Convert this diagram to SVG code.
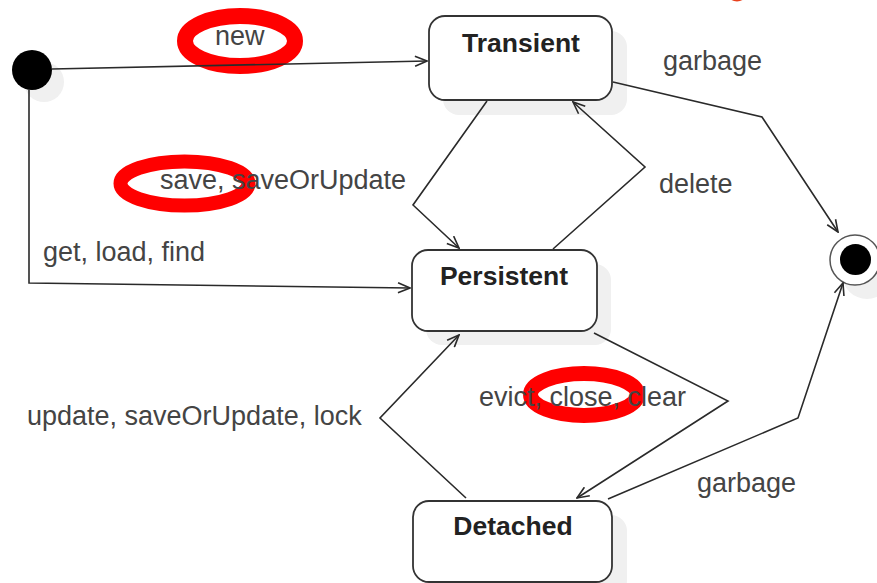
<svg xmlns="http://www.w3.org/2000/svg" width="877" height="583" viewBox="0 0 877 583">
<style>
.box{fill:#fff;stroke:#333;stroke-width:1.8}
.shadow{fill:#f0f0f0;stroke:none}
.name{font-family:"Liberation Sans",Arial,sans-serif;font-weight:bold;font-size:26.5px;fill:#222;text-anchor:middle}
.lbl{font-family:"Liberation Sans",Arial,sans-serif;font-size:27px;fill:#444}
.edge{fill:none;stroke:#2a2a2a;stroke-width:1.6}
.mark{fill:none;stroke:#ff0000}
</style>
<defs>
<marker id="arr" viewBox="0 0 14 12" refX="13" refY="6" markerWidth="14" markerHeight="12" markerUnits="userSpaceOnUse" orient="auto">
<path d="M1,1 L13,6 L1,11" fill="none" stroke="#2a2a2a" stroke-width="1.6"/>
</marker>
</defs>
<rect width="877" height="583" fill="#fff"/>
<g id="highlights">
<ellipse class="mark" cx="240" cy="41" rx="55" ry="25" stroke-width="16"/>
<ellipse class="mark" cx="184.5" cy="183.5" rx="64" ry="22" stroke-width="14"/>
<ellipse class="mark" cx="584" cy="394.5" rx="53.5" ry="21" stroke-width="15"/>
<ellipse cx="737" cy="-4" rx="8" ry="5.5" fill="#e8401c"/>
</g>
<g id="initial">
<circle class="shadow" cx="44" cy="82" r="20"/>
<circle cx="32" cy="70" r="20" fill="#000"/>
</g>
<g id="final">
<circle class="shadow" cx="867" cy="274" r="25"/>
<circle cx="855" cy="260" r="25" fill="#fff" stroke="#555" stroke-width="1.5"/>
<circle cx="855.5" cy="259.5" r="15.5" fill="#000"/>
</g>
<g id="transient">
<rect class="shadow" x="443" y="31" width="184" height="84" rx="16"/>
<rect class="box" x="429" y="16" width="183" height="84" rx="16"/>
<text class="name" x="521" y="52">Transient</text>
</g>
<g id="persistent">
<rect class="shadow" x="426" y="264" width="185" height="81" rx="16"/>
<rect class="box" x="412" y="250" width="185" height="81" rx="16"/>
<text class="name" x="504" y="285">Persistent</text>
</g>
<g id="detached">
<rect class="shadow" x="428" y="515" width="199" height="81" rx="16"/>
<rect class="box" x="413" y="501" width="199" height="81" rx="16"/>
<text class="name" x="513" y="535">Detached</text>
</g>
<g id="connectors">
<path class="edge" d="M52,69 L427,61" marker-end="url(#arr)"/>
<path class="edge" d="M29,90 L29,283 L410,288" marker-end="url(#arr)"/>
<path class="edge" d="M487,101 L413,205 L459,248" marker-end="url(#arr)"/>
<path class="edge" d="M553,249 L645,167 L573,102" marker-end="url(#arr)"/>
<path class="edge" d="M613,82 L762,117 L838,232" marker-end="url(#arr)"/>
<path class="edge" d="M594,333 L728,401 L577,498" marker-end="url(#arr)"/>
<path class="edge" d="M466,498 L380,418 L459,335" marker-end="url(#arr)"/>
<path class="edge" d="M608,499 L798,418 L843,283" marker-end="url(#arr)"/>
</g>
<g id="labels">
<text class="lbl" x="215" y="45">new</text>
<text class="lbl" x="663" y="70">garbage</text>
<text class="lbl" x="160" y="189">save, saveOrUpdate</text>
<text class="lbl" x="659" y="193">delete</text>
<text class="lbl" x="43" y="261">get, load, find</text>
<text class="lbl" x="27" y="425">update, saveOrUpdate, lock</text>
<text class="lbl" x="479" y="406">evict, close, clear</text>
<text class="lbl" x="697" y="492">garbage</text>
</g>
</svg>
